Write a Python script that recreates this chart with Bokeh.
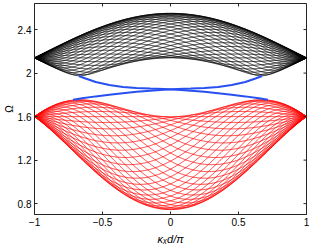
import numpy as np
from bokeh.plotting import figure
from bokeh.models import FixedTicker, Range1d
from bokeh.embed import file_html
from bokeh.resources import INLINE

# ---------------- values ----------------
x_ticks = [-1, -0.5, 0, 0.5, 1]
x_tick_labels = ["\u22121", "\u22120.5", "0", "0.5", "1"]
y_ticks = [0.8, 1.2, 1.6, 2.0, 2.4]
y_tick_labels = ["0.8", "1.2", "1.6", "2", "2.4"]
x_title = "\u03baₓd/\u03c0"
y_title = "\u03a9"

# bulk-band frequencies read at: zone edge (kx = ±1, all modes meet),
# gap edge (kx ≈ ±2/3) and far edge (kx = 0)
upper_band_omega = [2.14, 1.975, 2.55]
lower_band_omega = [1.60, 1.755, 0.745]
modes_per_band = 36

# edge state running from the upper band (left) to the lower band (right);
# the second edge state is its mirror image kx -> -kx
edge_kx = [-0.674, -0.625, -0.55, -0.45, -0.35, -0.25, -0.15, -0.05,
           0.05, 0.15, 0.25, 0.35, 0.45, 0.55, 0.65, 0.716]
edge_omega = [1.973, 1.950, 1.918, 1.890, 1.873, 1.864, 1.858, 1.853,
              1.847, 1.838, 1.828, 1.815, 1.801, 1.786, 1.769, 1.755]

# ---------------- honeycomb-ribbon model fitted to the read values ----------------
def fit_band(om):
    edge, gap, far = om
    d1, d3 = abs(edge - gap), abs(far - gap)
    target = d3 / d1
    lo, hi = 0.0, 100.0
    for _ in range(200):
        r = 0.5 * (lo + hi)
        g = (np.sqrt(r * r + 9) - r) / (np.sqrt(r * r + 1) - r)
        if g < target:
            lo = r
        else:
            hi = r
    r = lo
    t = d1 / (np.sqrt(r * r + 1) - r)
    return gap, r * t, t, (1.0 if far > gap else -1.0)

kx = np.linspace(-1, 1, 401)

def band_lines(om):
    gap, m, t, s = fit_band(om)
    c = np.cos(np.pi * kx / 2)
    xs, ys = [], []
    for n in range(modes_per_band):
        q = 2 * np.pi * n / modes_per_band + np.pi * kx / 2
        f2 = 1 + 4 * c * c + 4 * c * np.cos(q)
        ys.append(gap + s * (np.sqrt(m * m + t * t * f2) - m))
        xs.append(kx)
    return xs, ys

ux, uy = band_lines(upper_band_omega)
lx, ly = band_lines(lower_band_omega)

# ---------------- figure ----------------
W, H = 313, 247
y_top = 2.64
p = figure(width=W, height=H, output_backend="svg", toolbar_location=None,
           x_range=Range1d(-1, 1), y_range=Range1d(0.7, y_top),
           min_border_left=34, min_border_right=7,
           min_border_top=3, min_border_bottom=33)
p.background_fill_color = "white"
p.border_fill_color = "white"
p.grid.visible = False
p.outline_line_color = "#262626"
p.outline_line_width = 1

p.multi_line(ux, uy, line_color="black", line_width=0.75)
p.multi_line(lx, ly, line_color="#ff0000", line_width=0.75)
p.line(edge_kx, edge_omega, line_color="#2850f0", line_width=2)
p.line([-k for k in edge_kx], edge_omega, line_color="#2850f0", line_width=2)

# inward ticks on the top and right edges of the box
p.ray(x=x_ticks, y=[y_top] * len(x_ticks), length=3, length_units="screen",
      angle=-np.pi / 2, line_color="#262626", line_width=1)
p.ray(x=[1] * len(y_ticks), y=y_ticks, length=3, length_units="screen",
      angle=np.pi, line_color="#262626", line_width=1)

font = "Liberation Sans"
for ax, ticks, labels in ((p.xaxis[0], x_ticks, x_tick_labels), (p.yaxis[0], y_ticks, y_tick_labels)):
    ax.ticker = FixedTicker(ticks=ticks)
    ax.major_label_overrides = {t: l for t, l in zip(ticks, labels)}
    ax.major_tick_in = 3
    ax.major_tick_out = 0
    ax.minor_tick_line_color = None
    ax.axis_line_color = "#262626"
    ax.major_tick_line_color = "#262626"
    ax.major_label_text_font = font
    ax.major_label_text_font_size = "10px"
    ax.major_label_text_color = "black"
    ax.major_label_standoff = 3
    ax.axis_label_text_font = font
    ax.axis_label_text_color = "black"

p.xaxis[0].axis_label = x_title
p.xaxis[0].axis_label_text_font_style = "italic"
p.xaxis[0].axis_label_text_font_size = "11px"
p.xaxis[0].axis_label_standoff = 4
p.yaxis[0].axis_label = y_title
p.yaxis[0].axis_label_text_font_style = "normal"
p.yaxis[0].axis_label_text_font_size = "10px"
p.yaxis[0].axis_label_standoff = 0

open("out.html", "w").write(file_html(p, INLINE))
